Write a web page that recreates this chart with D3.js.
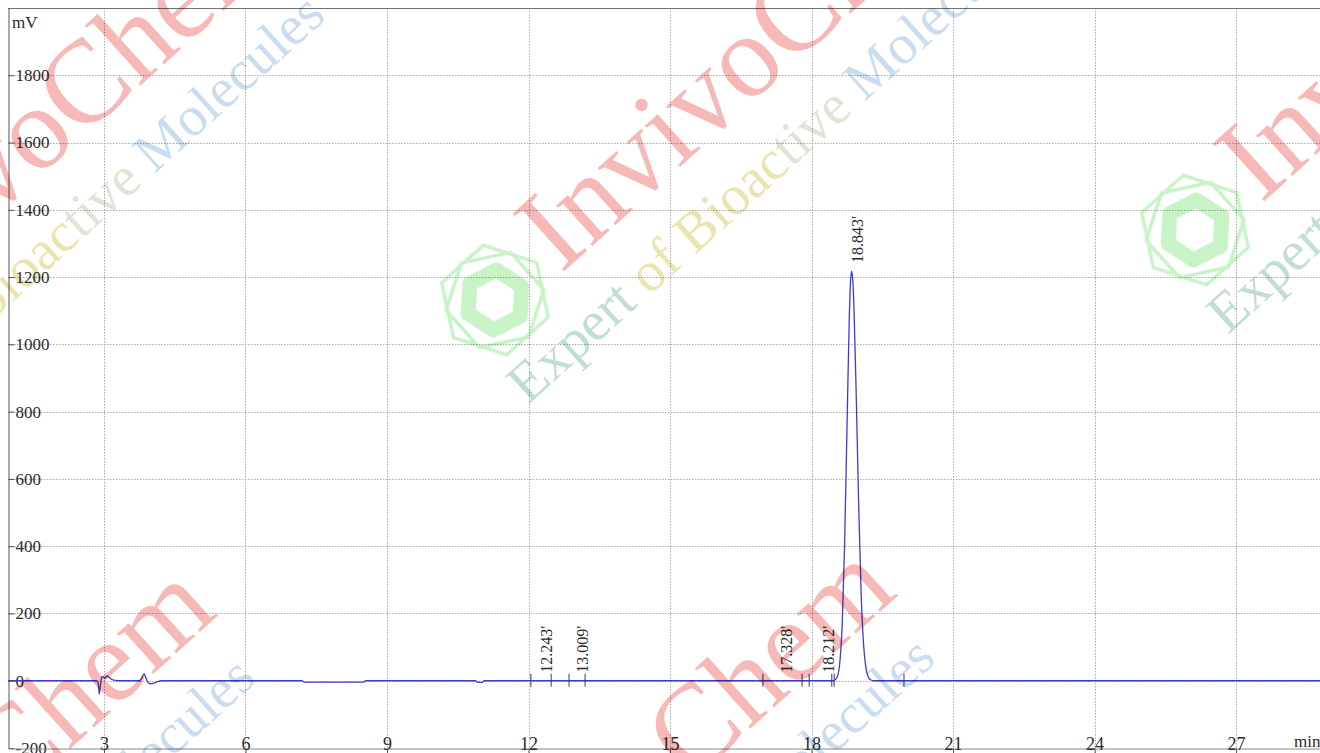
<!DOCTYPE html>
<html>
<head>
<meta charset="utf-8">
<script src="https://cdn.jsdelivr.net/npm/d3@7"></script>
<style>
  html, body { margin: 0; padding: 0; background: #fff; overflow: hidden; }
  svg { display: block; font-family: "Liberation Serif", "DejaVu Serif", serif; }
</style>
</head>
<body>
<svg id="chart" width="1320" height="753"></svg>
<script>
// chromatogram trace (min, mV)
const timeMin = [0.96, 2.85, 2.88, 2.90, 2.925, 2.955, 2.99, 3.02, 3.06, 3.11, 3.17, 3.30,
  3.76, 3.81, 3.85, 3.89, 3.93, 3.99, 4.06, 4.13, 4.23, 7.20, 7.24, 8.50, 8.55,
  10.88, 10.92, 11.02, 11.06, 18.45, 18.50, 18.55, 18.60, 18.65, 18.70, 18.75, 18.80,
  18.825, 18.85, 18.875, 18.90, 18.95, 19.00, 19.05, 19.10, 19.15, 19.20, 19.25, 19.32, 28.80];
const signalMv = [0, 0, -10, -40, -12, 12, 11, 7, 14, 10, 3, 0,
  0, 10, 21, 8, -4, -9, -7, -3, 0, 0, -4, -4, 0,
  0, -5, -5, 0, 0, 3, 13, 54, 165, 396, 739, 1075,
  1182, 1218, 1190, 1108, 835, 520, 268, 115, 41, 12, 3, 0, 0];

const peakTimes = [12.243, 13.009, 17.328, 18.212, 18.843];
const peakHeights = [0, 0, 0, 0, 1218];
const peakMarks = [12.05, 12.48, 12.86, 13.20, 16.97, 17.80, 17.95, 18.43, 18.48, 19.96];

const xTicks = [3, 6, 9, 12, 15, 18, 21, 24, 27];
const yTicks = [-200, 0, 200, 400, 600, 800, 1000, 1200, 1400, 1600, 1800];

const chartWidth = 1320;
const chartHeight = 753;
const plotLeft = 8;
const plotTop = 8;
const plotBottom = 748;

const svg = d3.select('#chart');

const x = d3.scaleLinear().domain([0.965, 28.78]).range([plotLeft, chartWidth]);
const y = d3.scaleLinear().domain([-200, 2000]).range([plotBottom, plotTop]);

svg.append('defs').append('clipPath').attr('id', 'plot-clip')
  .append('rect').attr('x', plotLeft).attr('y', plotTop)
  .attr('width', chartWidth - plotLeft).attr('height', plotBottom - plotTop);

// grid
const grid = svg.append('g').attr('class', 'grid')
  .attr('stroke', '#a8a8a8').attr('stroke-width', 1).attr('stroke-dasharray', '1.5,1.5');
grid.selectAll('line.h')
  .data(yTicks.filter((v) => v > -200))
  .join('line')
  .attr('class', 'h')
  .attr('x1', plotLeft).attr('x2', chartWidth)
  .attr('y1', (v) => Math.round(y(v)) + 0.5).attr('y2', (v) => Math.round(y(v)) + 0.5);
grid.selectAll('line.v')
  .data(xTicks)
  .join('line')
  .attr('class', 'v')
  .attr('x1', (v) => Math.round(x(v)) + 0.5).attr('x2', (v) => Math.round(x(v)) + 0.5)
  .attr('y1', plotTop).attr('y2', chartHeight);

// frame
svg.append('line')
  .attr('x1', plotLeft).attr('x2', chartWidth).attr('y1', plotTop + 0.5).attr('y2', plotTop + 0.5)
  .attr('stroke', '#707070');

const yAxis = svg.append('g')
  .attr('transform', `translate(${plotLeft + 0.5},0)`)
  .call(d3.axisRight(y).tickValues(yTicks).tickSize(6).tickSizeOuter(0).tickPadding(1).tickFormat(d3.format('d')));
yAxis.select('.domain').attr('stroke', '#555');
yAxis.selectAll('.tick line').attr('stroke', '#555');
yAxis.selectAll('.tick text')
  .attr('font-family', '"Liberation Serif", serif')
  .attr('font-size', 17)
  .attr('fill', '#2a2a2a')
  .text((d) => (d < 0 ? '-' + Math.abs(d) : d));

const xAxis = svg.append('g')
  .attr('transform', `translate(0,${plotBottom + 0.5})`)
  .call(d3.axisBottom(x).tickValues(xTicks).tickSize(6).tickSizeOuter(0));
xAxis.select('.domain').attr('stroke', '#888');
xAxis.selectAll('.tick line').attr('stroke', '#555');
xAxis.selectAll('.tick text')
  .attr('font-family', '"Liberation Serif", serif')
  .attr('font-size', 18)
  .attr('fill', '#2a2a2a')
  .attr('y', -11);

svg.append('text')
  .attr('x', 12).attr('y', 28)
  .attr('font-size', 17).attr('fill', '#2a2a2a')
  .text('mV');
svg.append('text')
  .attr('x', 1294).attr('y', 747)
  .attr('font-size', 17).attr('fill', '#2a2a2a')
  .text('min');

// trace
const points = timeMin.map((t, i) => [t, signalMv[i]]);
const line = d3.line()
  .x((d) => x(d[0]))
  .y((d) => y(d[1]))
  .curve(d3.curveMonotoneX);

svg.append('path')
  .datum(points)
  .attr('clip-path', 'url(#plot-clip)')
  .attr('fill', 'none')
  .attr('stroke', '#3c3cd2')
  .attr('stroke-width', 1.3)
  .attr('d', line);

// peak start/end marks
svg.append('g')
  .selectAll('line')
  .data(peakMarks)
  .join('line')
  .attr('x1', (t) => x(t)).attr('x2', (t) => x(t))
  .attr('y1', y(0) - 7).attr('y2', y(0) + 6)
  .attr('stroke', '#333a55').attr('stroke-width', 1);

// retention time labels
svg.append('g')
  .selectAll('text')
  .data(peakTimes)
  .join('text')
  .attr('transform', (t, i) => `translate(${x(t) + 12},${y(peakHeights[i]) - 8}) rotate(-90)`)
  .attr('font-size', 16)
  .attr('fill', '#2a2a2a')
  .text((t) => `${t.toFixed(3)}'`);

// watermark tiles
function hexPoints(r, rot) {
  return d3.range(6).map((i) => {
    const a = rot + (i * Math.PI) / 3;
    return [r * Math.cos(a), r * Math.sin(a)];
  });
}

function drawTile(layer, cx, cy) {
  const logo = layer.append('g')
    .attr('transform', `translate(${cx},${cy}) rotate(-12)`)
    .attr('fill', 'none')
    .attr('stroke', '#8fe88f')
    .attr('stroke-linejoin', 'round')
    .attr('opacity', 0.5);
  logo.append('path').attr('d', d3.line()(hexPoints(56, -Math.PI / 2)) + 'Z').attr('stroke-width', 3.5);
  logo.append('path').attr('d', d3.line()(hexPoints(50, 0)) + 'Z').attr('stroke-width', 3.5);
  logo.append('path').attr('d', d3.line()(hexPoints(30, Math.PI / 4)) + 'Z').attr('stroke-width', 15);

  layer.append('text')
    .attr('transform', `translate(${cx + 66},${cy - 26}) rotate(-42)`)
    .attr('font-size', 118)
    .attr('fill', '#f07272')
    .attr('fill-opacity', 0.5)
    .text('InvivoChem');

  const sub = layer.append('text')
    .attr('transform', `translate(${cx + 33},${cy + 105}) rotate(-42)`)
    .attr('font-size', 56)
    .attr('fill-opacity', 0.55);
  sub.append('tspan').attr('fill', '#8cc2b0').text('Expert ');
  sub.append('tspan').attr('fill', '#d8cf70').text('of Bioac');
  sub.append('tspan').attr('fill', '#c2cfae').text('tive ');
  sub.append('tspan').attr('fill', '#9ec0e2').text('Molecules');
}

const mark = svg.append('g').attr('class', 'watermark').style('mix-blend-mode', 'multiply');
[[-215, 372], [495, 300], [1195, 230], [-285, 1035], [395, 1015]].forEach(([cx, cy]) => drawTile(mark, cx, cy));
</script>
</body>
</html>
